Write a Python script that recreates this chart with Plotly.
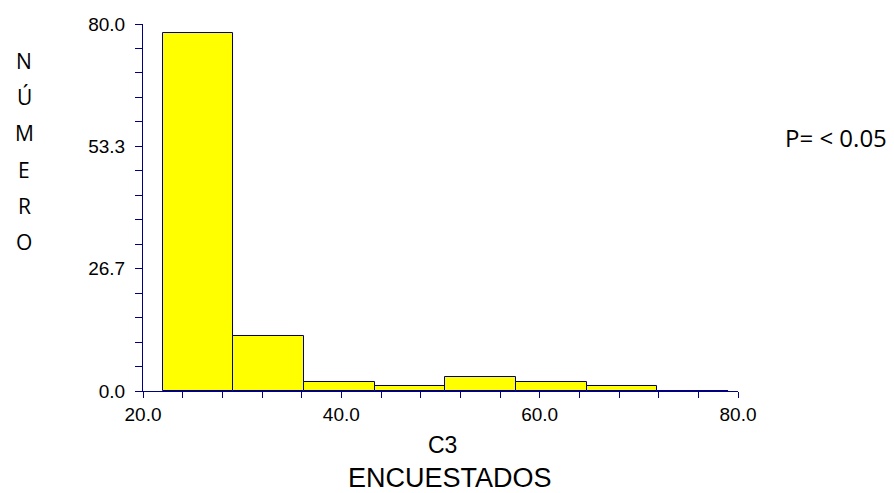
import plotly.graph_objects as go

# Histogram of C3 (encuestados): bin edges and counts per bin
bin_edges = [22.0, 29.125, 36.25, 43.375, 50.5, 57.625, 64.75, 71.875, 79.0]
counts = [78, 12, 2, 1, 3, 2, 1, 0]

# Axis ticks and labels
x_major_vals = [20, 40, 60, 80]
x_major_text = ["20.0", "40.0", "60.0", "80.0"]
y_major_vals = [0, 80 / 3, 160 / 3, 80]
y_major_text = ["0.0", "26.7", "53.3", "80.0"]

y_letters = ["N", "Ú", "M", "E", "R", "O"]
x_label = "C3"
x_sublabel = "ENCUESTADOS"
p_text = "P= < 0.05"

NAVY = "#000080"
W, H = 894, 493
ML, MR, MT, MB = 143, 156, 24, 102
PW, PH = W - ML - MR, H - MT - MB

centers = [(a + b) / 2 for a, b in zip(bin_edges[:-1], bin_edges[1:])]
widths = [b - a for a, b in zip(bin_edges[:-1], bin_edges[1:])]

fig = go.Figure()
fig.add_trace(go.Bar(
    x=centers, y=counts, width=widths,
    marker=dict(color="#FFFF00", line=dict(color=NAVY, width=1)),
    hoverinfo="x+y",
))

# Empty bins still show their outline along the baseline
for c, w, n in zip(centers, widths, counts):
    if n == 0:
        fig.add_trace(go.Scatter(
            x=[c - w / 2, c + w / 2], y=[n, n], mode="lines",
            line=dict(color=NAVY, width=2), hoverinfo="skip",
        ))


def px_to_paper(px, py):
    return (px - ML) / PW, (H - MB - py) / PH


annotations = []
for i, letter in enumerate(y_letters):
    ax, ay = px_to_paper(24, 61 + i * 36.2)
    annotations.append(dict(
        text=letter, x=ax, y=ay, xref="paper", yref="paper",
        showarrow=False, xanchor="center", yanchor="middle",
        font=dict(family="Open Sans", size=21, color="black"),
    ))

ax, ay = px_to_paper(442, 445)
annotations.append(dict(
    text=x_label, x=ax, y=ay, xref="paper", yref="paper", showarrow=False,
    xanchor="center", yanchor="middle",
    font=dict(family="Liberation Sans", size=23, color="black"),
))
ax, ay = px_to_paper(450, 478)
annotations.append(dict(
    text=x_sublabel, x=ax, y=ay, xref="paper", yref="paper", showarrow=False,
    xanchor="center", yanchor="middle", height=26, borderpad=0,
    font=dict(family="Liberation Sans", size=27, color="black"),
))
ax, ay = px_to_paper(836, 137)
annotations.append(dict(
    text=p_text, x=ax, y=ay, xref="paper", yref="paper", showarrow=False,
    xanchor="center", yanchor="middle",
    font=dict(family="Open Sans", size=24, color="black"),
))

fig.update_layout(
    width=W, height=H,
    margin=dict(l=ML, r=MR, t=MT, b=MB, pad=0),
    paper_bgcolor="white", plot_bgcolor="white",
    showlegend=False, bargap=0,
    annotations=annotations,
    font=dict(family="Liberation Sans", size=19, color="black"),
)
fig.update_xaxes(
    range=[20, 80], showgrid=False, zeroline=False,
    showline=True, linecolor=NAVY, linewidth=1,
    tickmode="array", tickvals=x_major_vals, ticktext=x_major_text,
    ticks="outside", ticklen=6, tickcolor=NAVY, tickwidth=1,
    minor=dict(dtick=4, tick0=20, ticks="outside", ticklen=6,
               tickcolor=NAVY, tickwidth=1, showgrid=False),
    tickfont=dict(family="Liberation Sans", size=19, color="black"),
)
fig.update_yaxes(
    range=[0, 80], showgrid=False, zeroline=False,
    showline=True, linecolor=NAVY, linewidth=1,
    tickmode="array", tickvals=y_major_vals, ticktext=y_major_text,
    ticks="outside", ticklen=7, tickcolor=NAVY, tickwidth=1,
    ticklabelstandoff=6,
    minor=dict(dtick=80 / 15, tick0=0, ticks="outside", ticklen=7,
               tickcolor=NAVY, tickwidth=1, showgrid=False),
    tickfont=dict(family="Liberation Sans", size=19, color="black"),
)

fig.write_html("out.html")
